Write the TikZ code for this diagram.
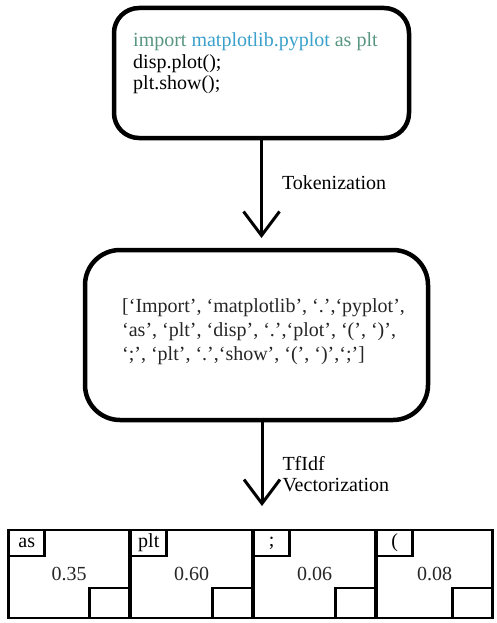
\documentclass[tikz,border=0pt]{standalone}
\usepackage{fontspec}
\setmainfont{Liberation Serif}
\usetikzlibrary{arrows.meta}

\definecolor{kwgreen}{RGB}{88,150,130}
\definecolor{modblue}{RGB}{58,160,204}

\begin{document}
\begin{tikzpicture}[%
        x = 1pt, y = -1pt,
        > = {Straight Barb[length=24pt, width=36pt]},
        box/.style = {draw, line width=4.5pt, rounded corners=#1, inner sep=0pt, outer sep=0pt},
        flow/.style = {->, line width=3pt},
        txt/.style = {font=\fontsize{20}{21.5}\selectfont, inner sep=0pt, align=left},
        lbl/.style = {txt, anchor=west, xshift=19pt},
        cell/.style = {draw, line width=2.75pt, minimum height=88pt, inner sep=0pt, outer sep=0pt,
            font=\fontsize{20}{24}\selectfont, text=black!85},
        keybox/.style = {draw, line width=2.75pt, minimum width=36pt, minimum height=26pt,
            inner sep=0pt, outer sep=0pt, anchor=north west, font=\fontsize{20}{24}\selectfont},
        padbox/.style = {draw, line width=2.75pt, minimum width=40pt, minimum height=30pt,
            inner sep=0pt, outer sep=0pt, anchor=south east}
    ]

        \useasboundingbox (0, 0) rectangle (497, 623);

        % Code snippet.
        \node[box=25pt, minimum width=295pt, minimum height=130pt] (code) at (261.5, 73) {};
        \node[txt, anchor=base west] (codetext) at (133, 90) {%
            \textcolor{kwgreen}{import} \textcolor{modblue}{matplotlib.pyplot} \textcolor{kwgreen}{as plt}\\
            disp.plot();\\
            plt.show();};

        % Token list.
        \node[box=35pt, minimum width=343pt, minimum height=170pt] (tokens) at (256.5, 335) {};
        \node[txt, anchor=base west, font=\fontsize{20}{24}\selectfont, text=black!85] (tokentext) at (122, 360) {%
            [‘Import’, ‘matplotlib’, ‘.’,‘pyplot’,\\
            ‘as’, ‘plt’, ‘disp’, ‘.’,‘plot’, ‘(’, ‘)’,\\
            ‘;’, ‘plt’, ‘.’,‘show’, ‘(’, ‘)’,‘;’]};

        \draw[flow, shorten >=12pt] (code.south) to node[lbl, pos=0.4] (toklbl) {Tokenization}
            (code.south |- tokens.north);

        \coordinate (vecend) at (262, 506);
        \draw[flow] (tokens.south -| vecend) to node[lbl, pos=0.63] (veclbl) {TfIdf\\Vectorization}
            (vecend);

        % Command for one cell of the vector.
        \newcommand*{\vectorcell}[5]{%
            \node[cell, minimum width=#3] (cell#1) at (#2, 574) {#5};
            \node[keybox] (key#1) at (cell#1.north west) {#4};
            \node[padbox] (pad#1) at (cell#1.south east) {};
        }

        \vectorcell{A}{69}{120.5pt}{as}{0.35}
        \vectorcell{B}{191.5}{121.5pt}{plt}{0.60}
        \vectorcell{C}{314.5}{121.5pt}{;}{0.06}
        \vectorcell{D}{434.5}{115.5pt}{(}{0.08}
        \let\vectorcell\undefined
    \end{tikzpicture}
\end{document}
